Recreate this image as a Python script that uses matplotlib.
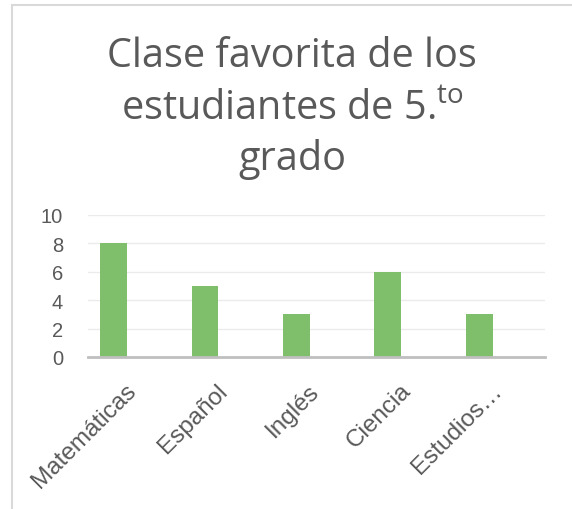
import matplotlib
matplotlib.use("Agg")
import matplotlib.pyplot as plt
import matplotlib.transforms as mtransforms
from matplotlib.patches import Rectangle
import numpy as np

# ---------------- DATA ----------------
clases = ["Matemáticas", "Español", "Inglés", "Ciencia", "Estudios…"]
estudiantes = [8, 5, 3, 6, 3]
yticks = [0, 2, 4, 6, 8, 10]

plt.rcParams["font.family"] = ["Open Sans", "DejaVu Sans"]
plt.rcParams["mathtext.fontset"] = "custom"
plt.rcParams["mathtext.rm"] = "Open Sans"

texto = "#595959"
eje_font = ["Liberation Sans", "DejaVu Sans"]

fig = plt.figure(figsize=(5.72, 5.10), dpi=100)

# chart frame (only left and top edges visible)
fig.patches.append(Rectangle((12 / 572, -0.2), 1.2, 0.2 + 504 / 510,
                             transform=fig.transFigure, fill=False,
                             edgecolor="#d9d9d9", linewidth=1.5))

# title, three centred lines
titulo = ["Clase favorita de los", r"estudiantes de 5.$^{\mathrm{to}}$", "grado"]
for linea, base in zip(titulo, [67, 120, 170]):
    fig.text(0.511, 1 - base / 510, linea, ha="center", va="baseline",
             fontsize=28.5, color=texto)

ax = fig.add_axes([88 / 572, 1 - 358 / 510, (545 - 88) / 572, (358 - 216) / 510])

x = np.arange(len(clases))
ax.bar(x - 0.22, estudiantes, width=0.295, color="#7fbf6b", zorder=3)

ax.set_xlim(-0.5, len(clases) - 0.5)
ax.set_ylim(0, 10)
ax.set_yticks(yticks)
ax.set_yticklabels([str(v) for v in yticks], fontsize=14.5, color=texto,
                   family=eje_font)
ax.set_xticks(x)
ax.set_xticklabels(clases, fontsize=17.5, color=texto, rotation=45,
                   ha="right", va="top", rotation_mode="anchor", family=eje_font)
ax.tick_params(axis="both", length=0)
ax.tick_params(axis="y", pad=18)
ax.tick_params(axis="x", pad=16)

# nudge the slanted category labels a little to the left
shift = mtransforms.ScaledTranslation(-6 / 72, 0, fig.dpi_scale_trans)
for lbl in ax.get_xticklabels():
    lbl.set_transform(lbl.get_transform() + shift)

ax.grid(axis="y", color="#ebebeb", linewidth=1, zorder=0)
for s in ["top", "right", "left"]:
    ax.spines[s].set_visible(False)
ax.spines["bottom"].set_color("#bfbfbf")
ax.spines["bottom"].set_linewidth(2)
ax.spines["bottom"].set_zorder(4)

fig.savefig("out.png", dpi=100)
